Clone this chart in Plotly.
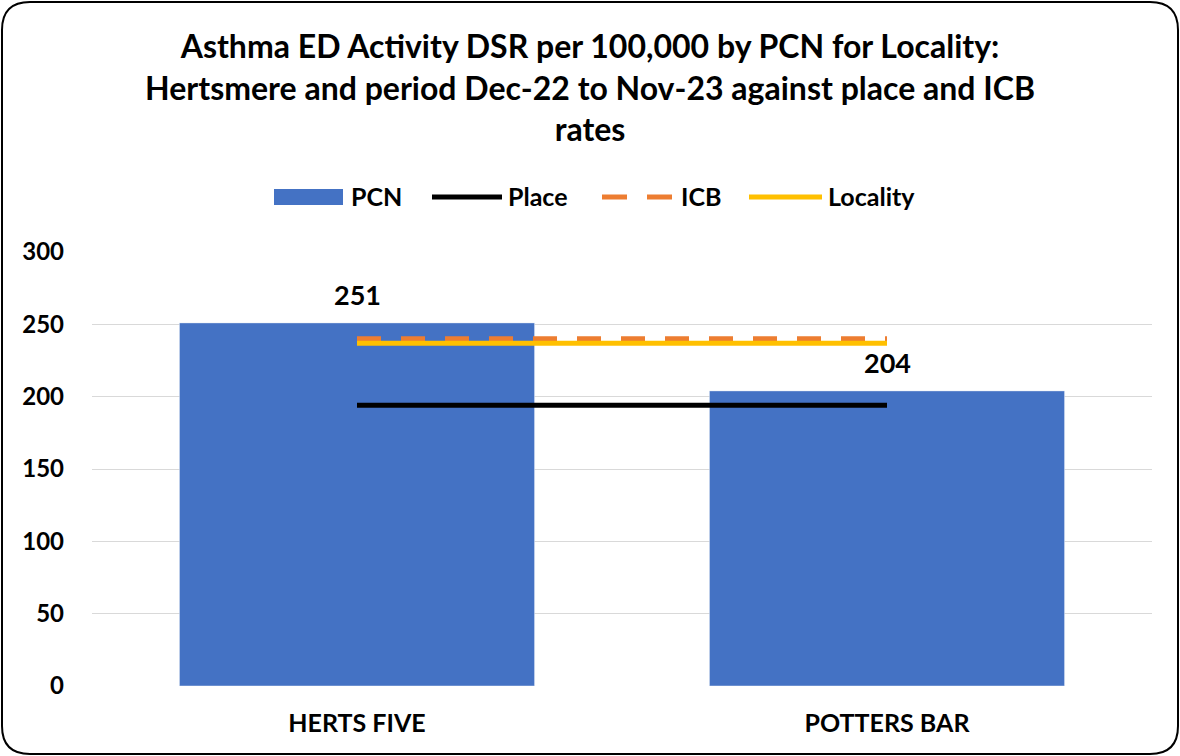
import plotly.graph_objects as go

categories = ["HERTS FIVE", "POTTERS BAR"]
pcn_values = [251, 204]
place_values = [194, 194]
icb_values = [240, 240]
locality_values = [237, 237]
y_ticks = [0, 50, 100, 150, 200, 250, 300]
legend_names = ["PCN", "Place", "ICB", "Locality"]

FONT = "Lato"
W, H = 1180, 756
ML, MR, MT, MB = 92, 28, 252, 70
PW, PH = W - ML - MR, H - MT - MB


def px(X):
    return (X - ML) / PW


def py(Y):
    return (H - MB - Y) / PH


fig = go.Figure()
fig.add_trace(go.Bar(x=categories, y=pcn_values, name=legend_names[0], marker_color="#4472C4",
                     width=0.67))
fig.add_trace(go.Scatter(x=categories, y=place_values, name=legend_names[1], mode="lines",
                         line=dict(color="#000000", width=5)))
fig.add_trace(go.Scatter(x=categories, y=icb_values, name=legend_names[2], mode="lines",
                         line=dict(color="#ED7D31", width=5, dash="24px,20px")))
fig.add_trace(go.Scatter(x=categories, y=locality_values, name=legend_names[3], mode="lines",
                         line=dict(color="#FFC000", width=5)))

for c, v in zip(categories, pcn_values):
    fig.add_annotation(x=c, y=v, text=f"<b>{v}</b>", showarrow=False, yanchor="middle",
                       yshift=28, font=dict(family=FONT, size=27, color="#000000"))

# custom legend (wide symbols like the original)
LY = 197
fig.add_shape(type="rect", xref="paper", yref="paper", x0=px(274), x1=px(343),
              y0=py(205), y1=py(189), fillcolor="#4472C4", line=dict(width=0))
fig.add_shape(type="line", xref="paper", yref="paper", x0=px(432), x1=px(502),
              y0=py(LY), y1=py(LY), line=dict(color="#000000", width=5))
for a, b in [(602, 627), (647, 672)]:
    fig.add_shape(type="line", xref="paper", yref="paper", x0=px(a), x1=px(b),
                  y0=py(LY), y1=py(LY), line=dict(color="#ED7D31", width=5))
fig.add_shape(type="line", xref="paper", yref="paper", x0=px(749), x1=px(822),
              y0=py(LY), y1=py(LY), line=dict(color="#FFC000", width=5))
for name, X in zip(legend_names, [349, 506, 679, 826]):
    fig.add_annotation(xref="paper", yref="paper", x=px(X), y=py(LY - 1), text=f"<b>{name}</b>",
                       showarrow=False, xanchor="left", yanchor="middle",
                       font=dict(family=FONT, size=25, color="#000000"))

fig.update_layout(
    width=W, height=H,
    paper_bgcolor="white", plot_bgcolor="white",
    margin=dict(l=ML, r=MR, t=MT, b=MB),
    font=dict(family=FONT, color="#000000"),
    title=dict(text="<b>Asthma ED Activity DSR per 100,000 by PCN for Locality:<br>Hertsmere and period Dec-22 to Nov-23 against place and ICB<br>rates</b>",
               x=0.5, xanchor="center", y=0.923, yanchor="top", yref="container",
               font=dict(family=FONT, size=32, color="#000000")),
    showlegend=False,
    bargap=0.33,
    xaxis=dict(showgrid=False, showline=False, ticks="", ticklabelstandoff=20,
               tickfont=dict(family=FONT, size=25, weight="bold", color="#000000")),
    yaxis=dict(range=[0, 300], tickvals=y_ticks, showgrid=True, gridcolor="#D9D9D9",
               gridwidth=1, zeroline=False, showline=False, ticks="",
               ticklabelstandoff=27,
               tickfont=dict(family=FONT, size=24, weight="bold", color="#000000")),
)

# rounded chart border
x0, x1 = px(2), px(W - 2)
y0, y1 = py(H - 2), py(2)
rxp, ryp = 28 / PW, 28 / PH
path = (f"M {x0+rxp},{y0} L {x1-rxp},{y0} Q {x1},{y0} {x1},{y0+ryp} "
        f"L {x1},{y1-ryp} Q {x1},{y1} {x1-rxp},{y1} L {x0+rxp},{y1} "
        f"Q {x0},{y1} {x0},{y1-ryp} L {x0},{y0+ryp} Q {x0},{y0} {x0+rxp},{y0} Z")
fig.add_shape(type="path", xref="paper", yref="paper", path=path,
              line=dict(color="#000000", width=2), fillcolor="rgba(0,0,0,0)", layer="above")

fig.write_html("out.html", config={"displayModeBar": False},
               post_script="document.body.style.margin='0';document.body.style.overflow='hidden';")
